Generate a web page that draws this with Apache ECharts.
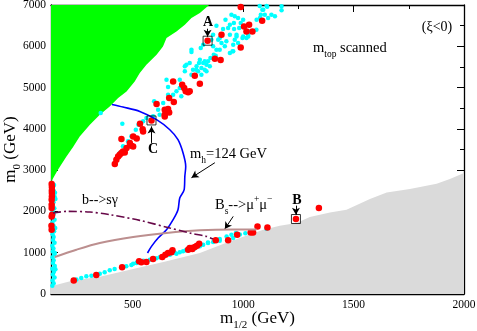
<!DOCTYPE html>
<html><head><meta charset="utf-8">
<script src="https://cdn.jsdelivr.net/npm/echarts@6/dist/echarts.min.js"></script>
<style>html,body{margin:0;padding:0;background:#fff}#c{width:477px;height:331px}</style>
</head><body><div id="c"></div>
<script>
// ---------- data ----------
const xMajor = [500, 1000, 1500, 2000];
const xMinor = [250, 750, 1250, 1750];
const regionI = [[130,2710],[160,3000],[200,3330],[230,3560],[260,3817],[306,4100],[351,4343],[396,4544],[434,4747],[472,4907],[509,5149],[532,5353],[562,5554],[608,5796],[637,5997],[653,6200],[698,6360],[736,6522],[766,6685],[804,6806],[846,7000]];
const regionII = [[130,190],[230,330],[351,420],[502,606],[653,791],[804,993],[939,1274],[1091,1557],[1166,1654],[1242,1720],[1302,1865],[1393,1976],[1468,2042],[1574,2301],[1650,2461],[1755,2543],[1876,2671],[1936,2785],[2000,2931]];
const cyanPts = [
 [1075,6975],[1087,6886],[1109,6960],[1080,6765],[1098,6765],[1113,6684],[947,6765],[962,6725],[977,6684],[989,6563],[1000,6644],[958,6563],[920,6644],[940,6523],[909,6418],[932,6442],[959,6418],[982,6442],[1007,6482],[1030,6361],[1060,6402],[1023,6240],[997,6200],[970,6240],[940,6281],[924,6119],[902,6079],[887,6160],[864,5998],[879,5918],[894,5918],[917,5998],[955,5877],[940,5837],[867,5797],[852,5716],[841,5635],[834,5554],[819,5595],[804,5676],[789,5514],[773,5433],[758,5595],[743,5554],[736,5514],[766,5918],[811,5474],[826,5433],[796,5393],[879,6499],[864,6281],[894,6200],[808,5958],[876,5772],[826,5635],[800,5595],[788,5433],[811,5312],[834,5393],[849,5514],[766,5312],[736,5393],[713,5191],[683,5151],[653,5191],[660,5014],[698,4909],[713,4990],[683,4828],[720,4788],[638,4627],[660,4828],[597,4667],[592,4304],[622,4344],[615,4465],[562,4263],[547,4182],[526,4102],[514,3981],[494,3820],[479,3698],[456,3577],[468,3480],[441,3416],[453,4126],[355,4384],[766,5861],[819,6039],[856,6160],
 [1106,6975],[1174,6967],[1174,6870],[1128,6765],[1144,6725],[1091,6886],[1076,6684],[1061,6644],[1023,6281],[1000,6240],[1015,6200],[970,6281],[962,6160],[955,6039],[952,5877],[977,6079],
 [230,320],[245,350],[267,388],[290,429],[313,445],[351,493],[373,525],[396,574],[418,606],[471,671],[494,703],[502,735],[517,751],[547,808],[577,832],[607,864],[622,889],[668,953],[698,977],[713,1010],[728,1034],[804,1155],[819,1195],[841,1236],[864,1260],[894,1292],[955,1357],[841,1250],[894,1332],[925,1395],[947,1436],[967,1477],[1106,1581],[520,770],[540,790],[555,800],[690,1000],[740,1060],[780,1100],[985,1440],[1010,1470],
 [136,200],[142,260],[137,330],[146,400],[138,470],[143,540],[136,610],[147,680],[139,750],[142,820],[137,890],[145,960],[138,1030],[141,1100],[136,1170],[146,1240],[139,1310],[142,1380],[137,1450],[144,1520],[138,1590],[141,1660],[136,1730],[146,1800],[139,1870],[142,1940],[137,2010],[145,2080],[138,2150],[141,2220],[136,2290],[146,2360],[139,2430],[142,2500],[137,2570],[144,2640],[150,2300],[148,2450],[147,1000],[150,600],[149,1600]
];
const redPts = [
 [419,3149],[426,3253],[434,3333],[441,3373],[449,3415],[456,3454],[464,3430],[472,3536],[487,3657],[494,3592],[502,3575],[449,3754],[502,3817],[518,3769],[547,3938],[545,3990],[533,4124],[585,4204],[645,4302],[645,4344],[665,4398],[645,4465],[660,4481],[608,4601],[665,4747],[686,4650],[683,5149],[724,5069],[733,4989],[740,4908],[751,4884],[758,4908],[781,5287],[804,5094],[872,5700],[898,5667],[839,6135],[902,6282],[989,5972],[1004,6481],[1015,6360],[1027,6522],[1042,6360],[1086,6619],[989,6951],
 [233,324],[335,461],[452,646],[529,792],[539,767],[562,775],[592,848],[634,897],[648,953],[660,993],[675,1010],[680,1058],[751,1074],[758,1114],[770,1090],[781,1139],[791,1171],[801,1220],[766,1114],[876,1300],[932,1300],[973,1436],[1034,1492],[1045,1490],[1065,1637],[1110,1613],[1239,1816],[1343,2083],
 [133,2667],[134,2591],[134,2509],[134,2446],[134,2364],[133,2284],[133,2163],[133,2083],[135,1921],[133,1880],[132,1654],[133,1557]
];
const markedPts = [[839,6135],[585,4204],[1239,1816]];
const mhCurve = [[406,4592],[456,4529],[532,4423],[608,4222],[668,3979],[705,3737],[728,3415],[740,3091],[736,2848],[733,2526],[713,2325],[705,2042],[683,1800],[653,1557],[615,1356],[585,1153],[567,993]];
const bsmumuCurve = [[147,896],[245,1073],[351,1235],[502,1381],[653,1480],[804,1545],[950,1565],[1060,1560]];
const bsgCurve = [[139,1962],[200,2001],[306,1986],[396,1921],[532,1783],[668,1598],[759,1477],[834,1395],[864,1330]];
const arrows = [
 [[839,6425],[839,6230]],
 [[585,3660],[585,4060]],
 [[1239,2140],[1239,1920]],
 [[872,3180],[766,2817]],
 [[955,1880],[917,1574]]
];

// ---------- chart ----------
const serif = 'Liberation Serif';
const chart = echarts.init(document.getElementById('c'), null, {renderer:'canvas'});
const axLine = {lineStyle:{color:'#000', width:1.3}};
const nameRich = {a:{fontFamily:serif,fontSize:17,color:'#000',verticalAlign:'top',lineHeight:18},s:{fontFamily:serif,fontSize:11,color:'#000',verticalAlign:'top',lineHeight:12,padding:[10,0,0,0]}};
const fmt = v => String(v);
function xAx(pos, vals, len, labels, name){
  return {type:'value', min:130, max:2000, position:pos,
    axisLine: len===7 ? axLine : {show:false},
    axisTick:{inside:true, length:len, customValues:vals, lineStyle:{color:'#000', width:1}},
    axisLabel: labels ? {customValues:vals, formatter:fmt, color:'#000', fontFamily:serif, fontSize:11.5, margin:5} : {show:false},
    splitLine:{show:false},
    name: name||'', nameLocation:'middle', nameGap:16, nameMoveOverlap:false,
    nameTextStyle:{rich:nameRich}
  };
}
function yAx(pos, labels, name){
  return {type:'value', min:0, max:7000, interval:1000, position:pos,
    axisLine: axLine,
    axisTick:{inside:true, length:7, lineStyle:{color:'#000', width:1}},
    minorTick:{show:true, splitNumber:2, length:4, lineStyle:{color:'#000', width:1}},
    axisLabel: labels ? {formatter:fmt, color:'#000', fontFamily:serif, fontSize:11.5, margin:5} : {show:false},
    splitLine:{show:false}, minorSplitLine:{show:false},
    name: name||'', nameLocation:'middle', nameGap:31, nameRotate:90, nameMoveOverlap:false,
    nameTextStyle:{rich:nameRich}
  };
}

chart.setOption({
  animation:false,
  grid:{left:51, right:13, top:5, bottom:37, containLabel:false, outerBoundsMode:'none'},
  xAxis:[
    xAx('bottom', xMajor, 7, true, '{a|m}{s|1/2}{a| (GeV)}'),
    xAx('bottom', xMinor, 4, false),
    xAx('top', xMajor, 7, false),
    xAx('top', xMinor, 4, false)
  ],
  yAxis:[ yAx('left', true, '{a|m}{s|0}{a| (GeV)}'), yAx('right', false) ],
  series:[
    {type:'line', data:regionI, showSymbol:false, symbol:'none', lineStyle:{width:0, color:'#00ff00'}, areaStyle:{color:'#00ff00', opacity:1, origin:'end'}, z:1, silent:true},
    {type:'line', data:regionII, showSymbol:false, symbol:'none', lineStyle:{width:0, color:'#dadada'}, areaStyle:{color:'#dadada', opacity:1, origin:'start'}, z:1, silent:true},
    {type:'scatter', data:cyanPts, symbolSize:4.5, itemStyle:{color:'#00ffff', opacity:1}, z:3, silent:true},
    {type:'scatter', data:redPts, symbolSize:6.5, itemStyle:{color:'#ff0000', opacity:1}, z:4, silent:true},
    {type:'line', data:mhCurve, smooth:0.3, showSymbol:false, symbol:'none', lineStyle:{color:'#0000ff', width:1.6}, z:5, silent:true},
    {type:'line', data:bsmumuCurve, smooth:0.3, showSymbol:false, symbol:'none', lineStyle:{color:'#bc8f8f', width:2}, z:5, silent:true},
    {type:'line', data:bsgCurve, smooth:0.3, showSymbol:false, symbol:'none', lineStyle:{color:'#670748', width:1.6, type:[8,3,2,3]}, z:5, silent:true},
    {type:'scatter', data:markedPts, symbol:'rect', symbolSize:9, itemStyle:{color:'rgba(0,0,0,0)', borderColor:'#000', borderWidth:1}, z:6, silent:true,
      markLine:{silent:true, symbol:['none','arrow'], symbolSize:[6,7], label:{show:false}, lineStyle:{color:'#000', width:1, type:'solid'},
        data: arrows.map(a=>[{coord:a[0]},{coord:a[1]}])}}
  ],
  graphic:[
    {type:'text', x:106, y:24, style:{text:'I', font:'bold 16px Liberation Serif', fill:'#000', align:'center', verticalAlign:'middle'}},
    {type:'text', x:257, y:269, style:{text:'II', font:'16px Liberation Serif', fill:'#000', align:'center', verticalAlign:'middle'}},
    {type:'text', x:208, y:22, style:{text:'A', font:'bold 14px Liberation Serif', fill:'#000', align:'center', verticalAlign:'middle'}},
    {type:'text', x:297, y:200, style:{text:'B', font:'bold 14px Liberation Serif', fill:'#000', align:'center', verticalAlign:'middle'}},
    {type:'text', x:153, y:149, style:{text:'C', font:'bold 14px Liberation Serif', fill:'#000', align:'center', verticalAlign:'middle'}},
    {type:'text', x:437, y:27, style:{text:'(ξ<0)', font:'14px Liberation Serif', fill:'#000', align:'center', verticalAlign:'middle'}},
    {type:'text', x:100, y:200, style:{text:'b-->sγ', font:'14px Liberation Serif', fill:'#000', align:'center', verticalAlign:'middle'}},
    {type:'text', x:313, y:41, style:{text:'{a|m}{s|top}{a| scanned}', fill:'#000', rich:{a:{fontFamily:serif,fontSize:14.5,verticalAlign:'top',lineHeight:15},s:{fontFamily:serif,fontSize:9.5,verticalAlign:'top',lineHeight:10,padding:[8,0,0,0]}}}},
    {type:'text', x:190, y:147, style:{text:'{a|m}{s|h}{a|=124 GeV}', fill:'#000', rich:{a:{fontFamily:serif,fontSize:14.5,verticalAlign:'top',lineHeight:15},s:{fontFamily:serif,fontSize:9.5,verticalAlign:'top',lineHeight:10,padding:[8,0,0,0]}}}},
    {type:'text', x:215, y:194, style:{text:'{a|B}{s|s}{a|-->μ}{p|+}{a|μ}{p|−}', fill:'#000', rich:{a:{fontFamily:serif,fontSize:14.5,verticalAlign:'top',lineHeight:15,padding:[4,0,0,0]},s:{fontFamily:serif,fontSize:9.5,verticalAlign:'top',lineHeight:10,padding:[12,0,0,0]},p:{fontFamily:serif,fontSize:9.5,verticalAlign:'top',lineHeight:10}}}}
  ]
});
</script></body></html>
